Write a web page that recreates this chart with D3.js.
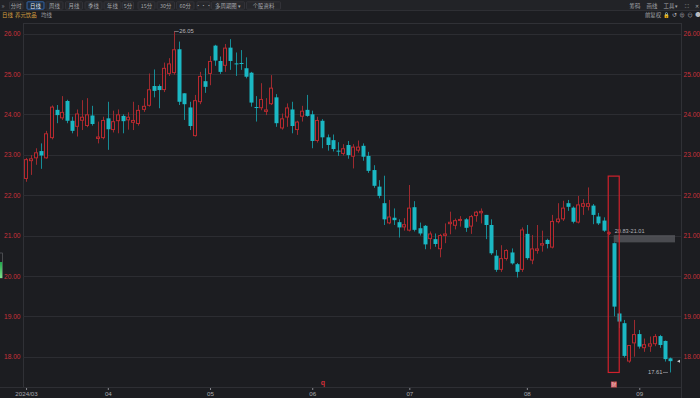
<!DOCTYPE html>
<html>
<head>
<meta charset="utf-8">
<script src="https://cdn.jsdelivr.net/npm/d3@7"></script>
<style>
  html, body { margin: 0; padding: 0; background: #1c1d21; }
  svg { display: block; font-family: "Noto Sans CJK SC", "Noto Sans", sans-serif; }
</style>
</head>
<body>
<svg id="chart" width="700" height="398"></svg>
<script>
// trading days, 2024-03-08 .. 2024-09-10
const dates = [
  "03-08","03-11","03-12","03-13","03-14","03-15","03-18","03-19","03-20","03-21","03-22","03-25","03-26","03-27","03-28","03-29",
  "04-01","04-02","04-03","04-08","04-09","04-10","04-11","04-12","04-15","04-16","04-17","04-18","04-19","04-22","04-23","04-24","04-25","04-26","04-29","04-30",
  "05-06","05-07","05-08","05-09","05-10","05-13","05-14","05-15","05-16","05-17","05-20","05-21","05-22","05-23","05-24","05-27","05-28","05-29","05-30","05-31",
  "06-03","06-04","06-05","06-06","06-07","06-11","06-12","06-13","06-14","06-17","06-18","06-19","06-20","06-21","06-24","06-25","06-26","06-27","06-28",
  "07-01","07-02","07-03","07-04","07-05","07-08","07-09","07-10","07-11","07-12","07-15","07-16","07-17","07-18","07-19","07-22","07-23","07-24","07-25","07-26","07-29","07-30","07-31",
  "08-01","08-02","08-05","08-06","08-07","08-08","08-09","08-12","08-13","08-14","08-15","08-16","08-19","08-20","08-21","08-22","08-23","08-26","08-27","08-28","08-29","08-30",
  "09-02","09-03","09-04","09-05","09-06","09-09","09-10"
];

const open = [
  22.40,22.84,22.91,23.09,22.91,23.41,24.11,23.90,24.33,23.84,23.69,23.84,23.71,23.97,23.39,23.41,
  23.90,23.61,23.83,23.96,23.85,23.79,23.76,24.11,24.21,24.70,24.70,24.60,25.00,25.02,25.61,24.52,24.17,23.46,24.30,24.82,
  25.00,25.70,25.32,25.20,25.65,25.26,25.27,25.14,25.03,24.18,24.15,24.06,24.25,24.42,23.65,23.92,24.12,23.61,23.94,24.11,
  24.00,23.34,23.84,23.43,23.36,23.10,23.02,23.24,22.95,23.10,23.22,22.97,22.62,22.21,21.80,21.30,21.44,21.33,21.20,
  21.12,21.70,21.18,21.24,20.91,20.91,20.66,20.99,21.28,21.24,21.36,21.40,21.22,21.48,21.55,21.51,21.26,20.50,20.15,20.42,20.58,20.29,20.15,
  21.04,20.38,20.62,20.75,20.89,20.70,21.33,21.40,21.80,21.69,21.32,21.71,21.71,21.74,21.47,21.37,21.05,20.81,19.07,18.83,17.88,18.33,
  18.56,18.21,18.25,18.31,18.51,18.39,17.96
];
const high = [
  22.92,22.99,23.16,23.28,23.59,24.22,24.23,24.45,24.36,23.94,24.12,24.35,24.40,24.21,23.82,23.94,
  24.31,24.09,24.12,24.00,24.05,24.31,24.23,24.40,25.01,25.11,24.74,25.28,25.39,26.05,25.80,24.52,24.31,24.48,25.05,25.14,
  25.44,25.72,25.43,25.74,25.86,25.53,25.59,25.41,25.05,24.45,24.77,24.40,24.97,24.50,24.02,24.27,24.31,23.84,24.21,24.48,
  24.09,23.94,23.88,23.50,23.50,23.31,23.26,23.34,23.26,23.35,23.28,23.07,22.74,22.37,22.48,21.88,21.67,21.40,21.43,
  22.25,21.85,21.32,21.26,21.10,21.05,21.04,21.30,21.59,21.42,21.48,21.43,21.51,21.61,21.67,21.51,21.40,20.64,20.76,20.66,20.68,20.32,21.20,
  21.26,21.01,21.26,21.12,20.92,21.51,21.80,21.86,21.88,21.72,21.98,21.90,22.19,21.78,21.56,21.45,21.10,20.83,19.10,18.91,18.29,18.91,
  18.66,18.45,18.50,18.56,18.54,18.40,17.98
];
const low = [
  22.33,22.50,22.75,22.65,22.90,23.38,23.78,23.86,23.78,23.53,23.45,23.61,23.68,23.72,23.28,23.38,
  23.12,23.55,23.53,23.53,23.62,23.61,23.72,24.06,24.19,24.42,24.15,24.55,24.95,24.98,24.23,23.86,23.61,23.45,24.25,24.53,
  24.72,25.20,25.00,25.05,25.10,24.95,25.10,24.89,24.19,23.82,24.10,23.98,24.23,23.69,23.62,23.69,23.53,23.49,23.82,23.94,
  23.16,23.30,23.16,23.10,23.08,22.97,22.98,22.90,22.66,23.05,22.85,22.55,22.18,21.92,21.26,21.28,21.26,20.95,21.12,
  21.10,21.10,21.00,20.66,20.66,20.72,20.46,20.81,21.03,21.15,21.22,21.09,21.04,21.34,21.30,20.91,20.52,20.10,20.10,20.38,20.28,19.96,20.10,
  20.40,20.29,20.55,20.60,20.68,20.68,21.30,21.36,21.61,21.30,21.30,21.51,21.62,21.28,21.26,21.09,21.01,19.00,18.71,17.98,17.85,18.00,
  18.20,18.12,18.12,18.26,18.22,17.88,17.61
];
const close = [
  22.89,22.91,23.06,22.98,23.53,24.19,23.98,24.06,23.84,23.59,24.02,23.94,24.00,23.76,23.45,23.86,
  23.63,23.83,24.00,23.83,23.94,23.86,24.11,24.21,24.62,24.58,24.60,25.15,25.26,25.61,24.31,24.25,23.71,24.35,24.95,24.68,
  25.32,25.33,25.05,25.65,25.32,25.24,25.25,24.93,24.29,24.16,24.38,24.12,24.66,23.78,23.90,24.17,23.71,23.82,24.09,23.96,
  23.34,23.86,23.43,23.24,23.14,23.08,23.16,22.99,23.20,23.20,22.95,22.60,22.23,21.98,21.40,21.47,21.38,21.20,21.28,
  21.69,21.14,21.05,20.78,21.05,20.79,21.01,21.05,21.34,21.38,21.41,21.19,21.48,21.59,21.61,21.26,20.56,20.15,20.44,20.64,20.31,20.10,21.15,
  20.44,20.68,20.68,20.81,20.79,21.36,21.42,21.69,21.71,21.34,21.77,21.80,21.80,21.51,21.30,21.12,21.08,19.24,18.87,18.02,18.29,18.56,
  18.25,18.31,18.33,18.51,18.29,17.94,17.89
];

const priceTicks = [18, 19, 20, 21, 22, 23, 24, 25, 26];
const monthTicks = ["03-08", "04-01", "05-06", "06-03", "07-01", "08-01", "09-02"];
const monthLabels = ["2024/03", "04", "05", "06", "07", "08", "09"];

// annotations
const maxMark = { date: "04-22", value: 26.05 };
const minMark = { date: "09-10", value: 17.61 };
const gap = { date: "08-26", lo: 20.83, hi: 21.01 };
const boxMark = { date: "08-26", top: 22.47, bottom: 17.61 };
const qMark = "06-05";

const W = 700, H = 398;
const plot = { left: 23, right: 681, top: 23, bottom: 387 };
const UP = "#b8292f", UP_WICK = "#9e2a2f";
const DOWN = "#1bb8c4", DOWN_WICK = "#168c96";
const GRID = "#2c2d32";
const AXIS_TXT = "#c8313a";

const svg = d3.select("#chart");
svg.append("rect").attr("width", W).attr("height", H).attr("fill", "#1c1d21");

// ---------- toolbar ----------
const bar = svg.append("g");
bar.append("rect").attr("x", 0).attr("y", 0).attr("width", W).attr("height", 10.5).attr("fill", "#222327");
bar.append("line").attr("x1", 0).attr("x2", W).attr("y1", 10.5).attr("y2", 10.5).attr("stroke", "#2e2f34");
bar.append("text").attr("x", 1.5).attr("y", 7.8).attr("fill", "#8a8b90").attr("font-size", 6.5).text("»");

const buttons = [
  ["分时", 9.5, 13.5], ["日线", 27, 17], ["周线", 46, 17], ["月线", 65.5, 17], ["季线", 85, 17],
  ["年线", 104, 17], ["5分", 122.5, 11], ["15分", 138, 17], ["30分", 157, 17.5], ["60分", 176.5, 17.5],
  ["•••", 197, 13], ["多周期图 ▾", 211.5, 33], ["个股资料", 246.5, 34]
];
buttons.forEach(([t, x, w], i) => {
  bar.append("rect").attr("x", x).attr("y", 1.8).attr("width", w).attr("height", 7.4).attr("rx", 0.8)
    .attr("fill", i === 1 ? "#1d2a3d" : "#26272b")
    .attr("stroke", i === 1 ? "#3d7fd6" : "#393a3f").attr("stroke-width", 0.7);
  bar.append("text").attr("x", x + w / 2).attr("y", 7.6).attr("text-anchor", "middle")
    .attr("fill", i === 1 ? "#dfe6f0" : "#a4a5aa").attr("font-size", 5.4).text(t);
});
[["筹码", 635], ["画线", 652], ["工具 ▾", 671], ["⛶", 687], ["✕", 697]].forEach(([t, x]) => {
  bar.append("text").attr("x", x).attr("y", 7.6).attr("text-anchor", "middle")
    .attr("fill", "#a4a5aa").attr("font-size", 5.4).text(t);
});

// second row
const row2 = svg.append("g");
row2.append("text").attr("x", 2).attr("y", 17).attr("fill", "#d8a040").attr("font-size", 5.4).text("日线");
row2.append("text").attr("x", 15).attr("y", 17).attr("fill", "#d8a040").attr("font-size", 5.4).text("养元饮品");
row2.append("text").attr("x", 41).attr("y", 17).attr("fill", "#9c9da2").attr("font-size", 5.4).text("均线");
row2.append("text").attr("x", 653).attr("y", 17).attr("text-anchor", "middle").attr("fill", "#a4a5aa").attr("font-size", 5.4).text("前复权");
[["🔒", 666], ["↺", 674], ["⊕", 682], ["⊖", 690], ["●", 698]].forEach(([t, x]) => {
  row2.append("text").attr("x", x).attr("y", 17.3).attr("text-anchor", "middle")
    .attr("fill", "#b8b9be").attr("font-size", 5.6).text(t);
});

// ---------- scales ----------
const x = d3.scaleBand().domain(dates).range([23.5, 672.5]).paddingInner(0.3).paddingOuter(0.15);
const cx = d => x(d) + x.bandwidth() / 2;
const y = d3.scaleLinear().domain([18, 26]).range([356.7, 33.5]);

// frame + grid
const frame = svg.append("g");
frame.append("line").attr("x1", plot.left).attr("x2", plot.right).attr("y1", plot.top + 0.5).attr("y2", plot.top + 0.5).attr("stroke", "#303136");
frame.append("line").attr("x1", plot.left + 0.5).attr("x2", plot.left + 0.5).attr("y1", plot.top).attr("y2", plot.bottom).attr("stroke", "#303136");
frame.append("line").attr("x1", plot.right + 0.5).attr("x2", plot.right + 0.5).attr("y1", plot.top).attr("y2", H).attr("stroke", "#303136");

frame.selectAll(".grid").data(priceTicks).enter().append("line")
  .attr("x1", plot.left).attr("x2", plot.right)
  .attr("y1", d => Math.round(y(d)) + 0.5).attr("y2", d => Math.round(y(d)) + 0.5)
  .attr("stroke", GRID);

// left price axis
const leftAxis = svg.append("g").attr("transform", `translate(${plot.left},0)`)
  .call(d3.axisLeft(y).tickValues(priceTicks).tickFormat(d3.format(".2f")).tickSize(0).tickPadding(2.5));
leftAxis.select(".domain").remove();
leftAxis.selectAll("text").attr("fill", AXIS_TXT).attr("font-size", 6.6)
  .attr("font-family", "'Liberation Sans', Arial, sans-serif");

// right price axis
const rightAxis = svg.append("g").attr("transform", `translate(${plot.right},0)`)
  .call(d3.axisRight(y).tickValues(priceTicks).tickFormat(d3.format(".2f")).tickSize(0).tickPadding(2.5));
rightAxis.select(".domain").remove();
rightAxis.selectAll("text").attr("fill", AXIS_TXT).attr("font-size", 6.6)
  .attr("font-family", "'Liberation Sans', Arial, sans-serif");

// bottom date axis
svg.append("line").attr("x1", 0).attr("x2", plot.right).attr("y1", plot.bottom + 0.5).attr("y2", plot.bottom + 0.5).attr("stroke", "#2e2f34");
const xAxis = svg.append("g").attr("transform", `translate(0,${plot.bottom + 1})`)
  .call(d3.axisBottom(d3.scaleOrdinal().domain(monthTicks).range(monthTicks.map(cx)))
    .tickFormat((d, i) => monthLabels[i]).tickSize(2).tickPadding(1.2));
xAxis.select(".domain").remove();
xAxis.selectAll("line").attr("stroke", "#8a8b90");
xAxis.selectAll("text").attr("fill", "#a8a9ae").attr("font-size", 6.2)
  .attr("font-family", "'Liberation Sans', Arial, sans-serif");

// ---------- candles ----------
const candles = dates.map((d, i) => ({ d, o: open[i], h: high[i], l: low[i], c: close[i] }));
const g = svg.append("g");
const bw = 4;

g.selectAll(".wick").data(candles).enter().append("line")
  .attr("x1", d => Math.round(cx(d.d)) + 0.5).attr("x2", d => Math.round(cx(d.d)) + 0.5)
  .attr("y1", d => y(d.h)).attr("y2", d => y(d.l))
  .attr("stroke", d => d.c > d.o ? UP_WICK : DOWN_WICK).attr("stroke-width", 1);

// hollow up candles
g.selectAll(".up").data(candles.filter(d => d.c > d.o)).enter().append("rect")
  .attr("x", d => Math.round(cx(d.d)) - 1.5).attr("width", bw - 1)
  .attr("y", d => y(d.c) + 0.5).attr("height", d => Math.max(0.5, y(d.o) - y(d.c) - 1))
  .attr("fill", "#1c1d21").attr("stroke", UP).attr("stroke-width", 1);

// filled down candles
g.selectAll(".down").data(candles.filter(d => d.c <= d.o)).enter().append("rect")
  .attr("x", d => Math.round(cx(d.d)) - 1.5).attr("width", bw)
  .attr("y", d => y(d.o)).attr("height", d => Math.max(1, y(d.c) - y(d.o)))
  .attr("fill", DOWN);

// ---------- annotations ----------
// max / min price tags
const mx = cx(maxMark.date), my = y(maxMark.value);
svg.append("line").attr("x1", mx).attr("x2", mx + 4.5).attr("y1", my).attr("y2", my).attr("stroke", "#9a9ba0").attr("stroke-width", 0.7);
svg.append("text").attr("x", mx + 5).attr("y", my + 2).attr("fill", "#b8b9be").attr("font-size", 5.8)
  .attr("font-family", "'Liberation Sans', Arial, sans-serif").text(maxMark.value.toFixed(2));

const nx = cx(minMark.date), ny = y(minMark.value);
svg.append("line").attr("x1", nx - 7).attr("x2", nx - 2).attr("y1", ny).attr("y2", ny).attr("stroke", "#9a9ba0").attr("stroke-width", 0.7);
svg.append("text").attr("x", nx - 7.5).attr("y", ny + 2).attr("text-anchor", "end").attr("fill", "#b8b9be").attr("font-size", 5.8)
  .attr("font-family", "'Liberation Sans', Arial, sans-serif").text(minMark.value.toFixed(2));

// gap band
const gx = cx(gap.date);
svg.append("rect").attr("x", gx).attr("width", 675 - gx)
  .attr("y", y(gap.hi)).attr("height", y(gap.lo) - y(gap.hi))
  .attr("fill", "#5a5b60").attr("opacity", 0.75);
svg.append("text").attr("x", gx + 1).attr("y", y(gap.hi) - 1.6).attr("fill", "#b0b1b6").attr("font-size", 5.6)
  .attr("font-family", "'Liberation Sans', Arial, sans-serif").text(gap.lo.toFixed(2) + "-" + gap.hi.toFixed(2));

// highlight box
const bx = cx(boxMark.date);
svg.append("rect").attr("x", bx - 5.5).attr("width", 11)
  .attr("y", y(boxMark.top)).attr("height", y(boxMark.bottom) - y(boxMark.top))
  .attr("fill", "none").attr("stroke", "#d0212c").attr("stroke-width", 1.2);

// event markers on the date axis
svg.append("rect").attr("x", bx - 2.8).attr("y", 381.5).attr("width", 6).attr("height", 6)
  .attr("fill", "#c24a4f");
svg.append("text").attr("x", bx + 0.2).attr("y", 386.3).attr("text-anchor", "middle").attr("fill", "#f3d6d6").attr("font-size", 4.8).text("财");
svg.append("text").attr("x", cx(qMark) + 0.5).attr("y", 385).attr("text-anchor", "middle").attr("fill", "#d1303a")
  .attr("font-size", 7).attr("font-weight", "bold").attr("font-family", "'Liberation Sans', Arial, sans-serif").text("q");

// last-price pointer at the right edge
svg.append("path").attr("d", `M${plot.right - 4},${y(close[close.length - 1])} l3,-1.5 v3 z`).attr("fill", "#c9cacf");

// side position gauge
svg.append("rect").attr("x", -1).attr("y", 253).attr("width", 3.5).attr("height", 25)
  .attr("fill", "#1c1d21").attr("stroke", "#6a6b70").attr("stroke-width", 0.6);
const grad = svg.append("defs").append("linearGradient").attr("id", "gg").attr("x1", 0).attr("x2", 0).attr("y1", 0).attr("y2", 1);
grad.append("stop").attr("offset", 0).attr("stop-color", "#1fa64a");
grad.append("stop").attr("offset", 1).attr("stop-color", "#7de08a");
svg.append("rect").attr("x", 0).attr("y", 262).attr("width", 2.2).attr("height", 16).attr("fill", "url(#gg)");
</script>
</body>
</html>
